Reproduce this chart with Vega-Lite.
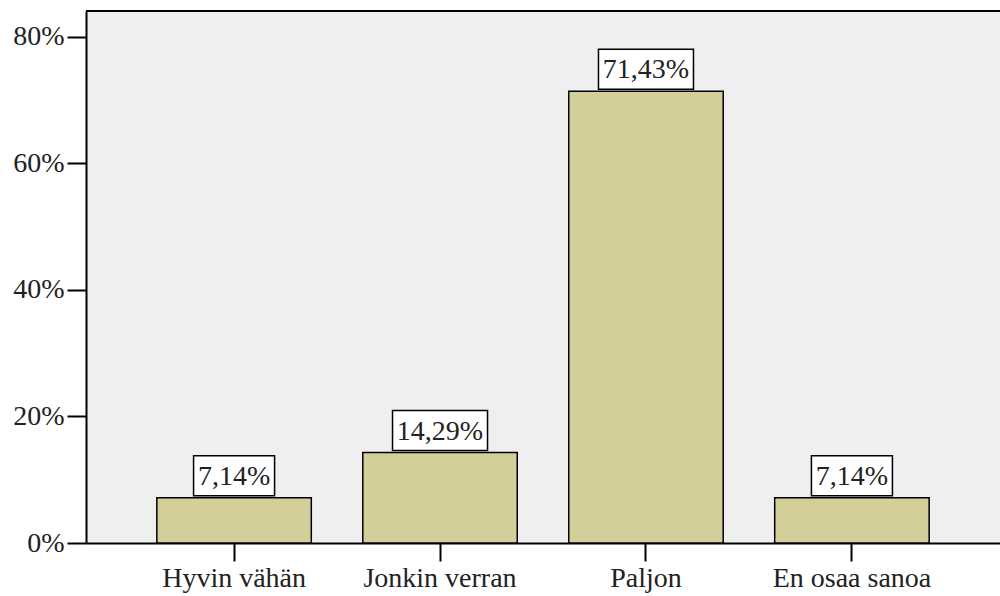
{
  "$schema": "https://vega.github.io/schema/vega-lite/v6.json",
  "width": 914,
  "height": 532,
  "autosize": "none",
  "padding": {"left": 86, "top": 11, "right": 0, "bottom": 53},
  "background": "white",
  "config": {
    "view": {"stroke": null, "fill": "#efefef"},
    "font": "Liberation Serif",
    "locale": {"number": {"decimal": ",", "thousands": " ", "grouping": [3], "currency": ["", " €"]}}
  },
  "data": {
    "values": [
      {"category": "Hyvin vähän", "value": 0.0714},
      {"category": "Jonkin verran", "value": 0.1429},
      {"category": "Paljon", "value": 0.7143},
      {"category": "En osaa sanoa", "value": 0.0714}
    ]
  },
  "layer": [
    {
      "mark": {"type": "bar", "fill": "#d3ce9a", "stroke": "black", "strokeWidth": 1.5},
      "encoding": {
        "x": {
          "field": "category", "type": "nominal", "sort": null,
          "scale": {"paddingInner": 0.25, "paddingOuter": 0.344},
          "axis": {
            "title": null, "labelAngle": 0, "labelFontSize": 28, "labelColor": "#222",
            "labelFont": "Liberation Serif", "labelPadding": 3,
            "domainColor": "black", "domainWidth": 2, "tickColor": "black", "tickWidth": 2, "tickSize": 18
          }
        },
        "y": {
          "field": "value", "type": "quantitative",
          "scale": {"domain": [0, 0.841], "nice": false, "zero": true},
          "axis": {
            "title": null, "values": [0, 0.2, 0.4, 0.6, 0.8], "format": ".0%",
            "grid": false, "labelFontSize": 28, "labelColor": "#222", "labelFont": "Liberation Serif",
            "labelPadding": 3, "domainColor": "black", "domainWidth": 2,
            "tickColor": "black", "tickWidth": 2, "tickSize": 19
          }
        }
      }
    },
    {
      "mark": {"type": "rule", "color": "black", "strokeWidth": 2},
      "encoding": {"y": {"datum": 0.841, "type": "quantitative"}}
    },
    {
      "mark": {"type": "bar", "fill": "white", "stroke": "black", "strokeWidth": 1.5, "yOffset": -42, "y2Offset": -2},
      "encoding": {
        "x": {"field": "category", "type": "nominal", "sort": null},
        "y": {"field": "value", "type": "quantitative"},
        "y2": {"field": "value"},
        "size": {"condition": {"test": "datum.value >= 0.1", "value": 95}, "value": 81}
      }
    },
    {
      "mark": {"type": "text", "fontSize": 28, "color": "#222", "baseline": "middle", "dy": -21, "font": "Liberation Serif"},
      "encoding": {
        "x": {"field": "category", "type": "nominal", "sort": null},
        "y": {"field": "value", "type": "quantitative"},
        "text": {"field": "value", "type": "quantitative", "format": ".2%"}
      }
    }
  ]
}
